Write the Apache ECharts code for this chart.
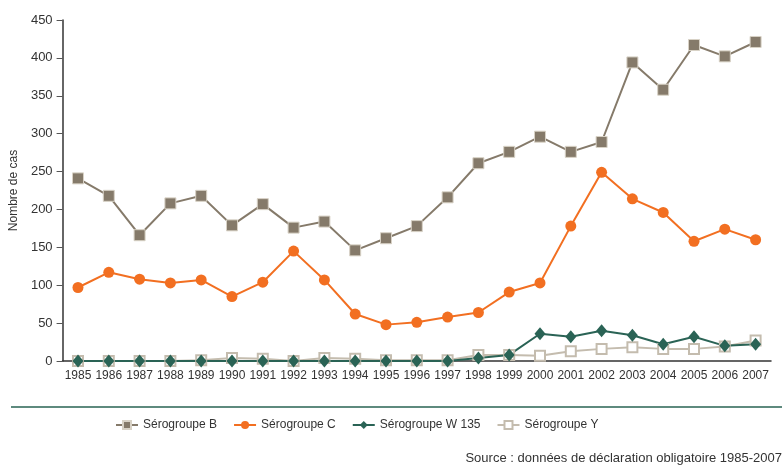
<!DOCTYPE html>
<html>
<head>
<meta charset="utf-8">
<script src="https://cdn.jsdelivr.net/npm/echarts@6/dist/echarts.min.js"></script>
<style>
  html, body { margin: 0; padding: 0; background: #fff; }
  #main { width: 782px; height: 468px; }
</style>
</head>
<body>
<div id="main"></div>
<script>
var years = ['1985', '1986', '1987', '1988', '1989', '1990', '1991', '1992', '1993', '1994', '1995', '1996',
  '1997', '1998', '1999', '2000', '2001', '2002', '2003', '2004', '2005', '2006', '2007'];
var seroB = [241, 218, 166, 208, 218, 179, 207, 176, 184, 146, 162, 178, 216, 261, 276, 296, 276, 289, 394, 358, 417, 402, 421];
var seroC = [97, 117, 108, 103, 107, 85, 104, 145, 107, 62, 48, 51, 58, 64, 91, 103, 178, 249, 214, 196, 158, 174, 160];
var seroW = [0, 0, 0, 0, 0, 0, 0, 0, 0, 0, 0, 0, 0, 4, 8, 36, 32, 40, 34, 22, 32, 20, 22];
var seroY = [0, 0, 0, 0, 1, 4, 3, 0, 4, 3, 1, 1, 1, 8, 8, 7, 13, 16, 18, 16, 16, 19, 27];
var yTicks = [0, 50, 100, 150, 200, 250, 300, 350, 400, 450];

var font = '"Liberation Sans Narrow", "Liberation Sans", sans-serif';

var chart = echarts.init(document.getElementById('main'), null, { renderer: 'canvas' });

var option = {
  backgroundColor: '#ffffff',
  animation: false,
  textStyle: { fontFamily: font, color: '#333' },
  grid: { left: 62, right: 11, top: 20, bottom: 107 },
  legend: {
    bottom: 32,
    left: 110,
    itemWidth: 22,
    itemHeight: 10,
    itemGap: 16,
    textStyle: { fontFamily: font, fontSize: 12, color: '#333' },
    data: ['Sérogroupe B', 'Sérogroupe C', 'Sérogroupe W 135', 'Sérogroupe Y']
  },
  xAxis: {
    type: 'category',
    data: years,
    boundaryGap: true,
    axisLine: { lineStyle: { color: '#333', width: 1.5 } },
    axisTick: { alignWithLabel: true, length: 5, lineStyle: { color: '#333' } },
    axisLabel: { fontFamily: font, fontSize: 12, color: '#333', interval: 0, margin: 9 }
  },
  yAxis: {
    type: 'value',
    min: yTicks[0],
    max: yTicks[yTicks.length - 1],
    interval: 50,
    name: 'Nombre de cas',
    nameLocation: 'middle',
    nameGap: 39,
    nameTextStyle: { fontFamily: font, fontSize: 12, color: '#333' },
    axisLine: { show: true, lineStyle: { color: '#333', width: 1.5 } },
    axisTick: { show: true, length: 6, lineStyle: { color: '#555' } },
    axisLabel: { fontFamily: font, fontSize: 13, color: '#333', margin: 10 },
    splitLine: { show: false }
  },
  graphic: [{
    type: 'line',
    shape: { x1: 11, y1: 407, x2: 782, y2: 407 },
    style: { stroke: '#5e8a7e', lineWidth: 2 }
  }, {
    type: 'text',
    right: 0,
    bottom: 3,
    style: {
      text: 'Source : données de déclaration obligatoire 1985-2007',
      fontFamily: font,
      fontSize: 13,
      fill: '#333'
    }
  }],
  series: [{
    name: 'Sérogroupe B',
    type: 'line',
    data: seroB,
    symbol: 'rect',
    symbolSize: 11,
    color: '#857a6a',
    lineStyle: { width: 2 },
    itemStyle: { borderColor: '#d8d2c6', borderWidth: 1 }
  }, {
    name: 'Sérogroupe C',
    type: 'line',
    data: seroC,
    symbol: 'circle',
    symbolSize: 11,
    color: '#f26f21',
    lineStyle: { width: 2 }
  }, {
    name: 'Sérogroupe Y',
    type: 'line',
    data: seroY,
    symbol: 'rect',
    symbolSize: 10,
    color: '#c4bcae',
    lineStyle: { width: 2, color: '#c4bcae' },
    itemStyle: { color: '#ffffff', borderColor: '#c4bcae', borderWidth: 2 }
  }, {
    name: 'Sérogroupe W 135',
    type: 'line',
    data: seroW,
    symbol: 'diamond',
    symbolSize: [11, 13],
    color: '#2a6355',
    lineStyle: { width: 2 }
  }]
};

chart.setOption(option);
</script>
</body>
</html>
